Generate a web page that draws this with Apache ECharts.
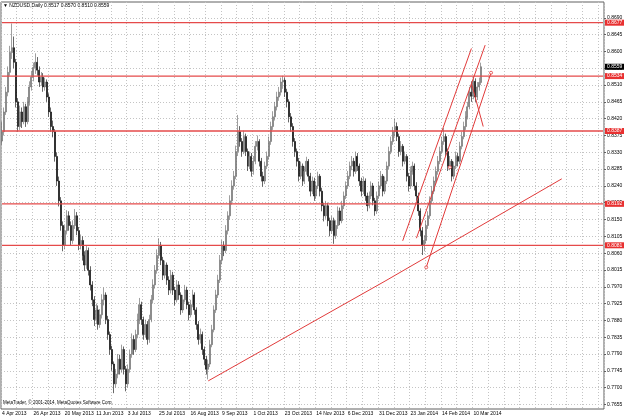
<!DOCTYPE html>
<html><head><meta charset="utf-8">
<script src="https://cdn.jsdelivr.net/npm/echarts@6/dist/echarts.min.js"></script>
<style>html,body{margin:0;padding:0;background:#fff}#c{width:624px;height:417px}</style>
</head><body><div id="c"></div>
<script>
// ---- data ----
const firstDate = '2013-04-04';
const totalSlots = 307;               // bars + empty space on the right
const closedDays = ['12-25', '01-01'];
// [open, close, low, high]
const candles = [
[.8360,.8385,.8350,.8412],[.8385,.8438,.8375,.8450],[.8438,.8491,.8430,.8505],[.8491,.8544,.8480,.8560],
[.8544,.8597,.8535,.8615],[.8597,.8610,.8580,.8675],[.8610,.8571,.8555,.8640],[.8571,.8465,.8450,.8580],
[.8465,.8399,.8385,.8475],[.8399,.8438,.8390,.8455],[.8438,.8412,.8395,.8450],[.8412,.8452,.8405,.8465],
[.8452,.8412,.8398,.8460],[.8412,.8465,.8405,.8478],[.8465,.8505,.8455,.8520],[.8505,.8531,.8495,.8548],
[.8531,.8557,.8520,.8570],[.8557,.8571,.8540,.8595],[.8571,.8550,.8535,.8585],[.8550,.8518,.8505,.8560],
[.8518,.8531,.8508,.8545],[.8531,.8505,.8492,.8542],[.8505,.8518,.8495,.8530],[.8518,.8478,.8465,.8525],
[.8478,.8438,.8425,.8488],[.8438,.8399,.8385,.8450],[.8399,.8385,.8370,.8415],[.8385,.8319,.8305,.8392],
[.8319,.8253,.8240,.8330],[.8253,.8200,.8185,.8265],[.8200,.8134,.8120,.8210],[.8134,.8081,.8065,.8145],
[.8081,.8120,.8070,.8135],[.8120,.8160,.8110,.8175],[.8160,.8134,.8120,.8172],[.8134,.8094,.8080,.8145],
[.8094,.8134,.8085,.8148],[.8134,.8160,.8125,.8178],[.8160,.8120,.8108,.8170],[.8120,.8081,.8068,.8130],
[.8081,.8094,.8070,.8110],[.8094,.8054,.8040,.8105],[.8054,.8028,.8012,.8065],[.8028,.8067,.8018,.8080],
[.8067,.8014,.8000,.8075],[.8014,.7975,.7960,.8025],[.7975,.7935,.7918,.7985],[.7935,.7882,.7865,.7945],
[.7882,.7908,.7870,.7925],[.7908,.7869,.7855,.7920],[.7869,.7895,.7860,.7910],[.7895,.7935,.7885,.7950],
[.7935,.7948,.7920,.7968],[.7948,.7882,.7870,.7955],[.7882,.7842,.7828,.7892],[.7842,.7802,.7788,.7850],
[.7802,.7763,.7745,.7812],[.7763,.7710,.7685,.7770],[.7710,.7736,.7700,.7750],[.7736,.7776,.7725,.7790],
[.7776,.7749,.7735,.7788],[.7749,.7802,.7740,.7815],[.7802,.7749,.7735,.7810],[.7749,.7710,.7690,.7758],
[.7710,.7749,.7700,.7762],[.7749,.7789,.7740,.7802],[.7789,.7829,.7780,.7845],[.7829,.7802,.7788,.7840],
[.7802,.7842,.7795,.7855],[.7842,.7882,.7832,.7898],[.7882,.7922,.7870,.7940],[.7922,.7882,.7868,.7930],
[.7882,.7842,.7828,.7890],[.7842,.7869,.7835,.7882],[.7869,.7829,.7815,.7878],[.7829,.7882,.7820,.7895],
[.7882,.7935,.7875,.7948],[.7935,.7975,.7925,.7990],[.7975,.8014,.7965,.8028],[.8014,.8054,.8005,.8070],
[.8054,.8081,.8045,.8100],[.8081,.8041,.8028,.8090],[.8041,.8001,.7988,.8050],[.8001,.8028,.7992,.8040],
[.8028,.7988,.7975,.8035],[.7988,.7961,.7948,.7998],[.7961,.8001,.7952,.8015],[.8001,.7961,.7948,.8010],
[.7961,.7935,.7920,.7970],[.7935,.7975,.7928,.7988],[.7975,.7948,.7935,.7985],[.7948,.7908,.7895,.7955],
[.7908,.7935,.7900,.7948],[.7935,.7961,.7928,.7975],[.7961,.7922,.7910,.7970],[.7922,.7895,.7880,.7930],
[.7895,.7922,.7888,.7935],[.7922,.7948,.7915,.7962],[.7948,.7908,.7895,.7955],[.7908,.7869,.7855,.7915],
[.7869,.7829,.7815,.7878],[.7829,.7842,.7818,.7858],[.7842,.7802,.7788,.7850],[.7802,.7776,.7760,.7810],
[.7776,.7749,.7735,.7785],[.7749,.7763,.7722,.7775],[.7763,.7815,.7755,.7828],[.7815,.7855,.7808,.7868],
[.7855,.7908,.7848,.7920],[.7908,.7948,.7900,.7962],[.7948,.7988,.7940,.8002],[.7988,.8041,.7980,.8055],
[.8041,.8081,.8030,.8095],[.8081,.8067,.8052,.8092],[.8067,.8120,.8060,.8135],[.8120,.8160,.8110,.8172],
[.8160,.8200,.8150,.8215],[.8200,.8240,.8190,.8255],[.8240,.8266,.8230,.8280],[.8266,.8332,.8258,.8348],
[.8332,.8385,.8320,.8430],[.8385,.8359,.8345,.8400],[.8359,.8332,.8318,.8368],[.8332,.8372,.8325,.8388],
[.8372,.8332,.8320,.8380],[.8332,.8293,.8280,.8340],[.8293,.8319,.8285,.8332],[.8319,.8279,.8265,.8328],
[.8279,.8306,.8270,.8320],[.8306,.8346,.8298,.8360],[.8346,.8359,.8335,.8375],[.8359,.8306,.8292,.8365],
[.8306,.8266,.8252,.8315],[.8266,.8253,.8238,.8278],[.8253,.8293,.8245,.8305],[.8293,.8319,.8285,.8332],
[.8319,.8359,.8310,.8372],[.8359,.8399,.8350,.8412],[.8399,.8425,.8390,.8440],[.8425,.8452,.8415,.8465],
[.8452,.8478,.8442,.8492],[.8478,.8491,.8468,.8505],[.8491,.8518,.8482,.8530],[.8518,.8523,.8500,.8535],
[.8523,.8491,.8478,.8530],[.8491,.8465,.8450,.8500],[.8465,.8425,.8410,.8472],[.8425,.8399,.8385,.8435],
[.8399,.8359,.8345,.8408],[.8359,.8332,.8318,.8368],[.8332,.8306,.8292,.8340],[.8306,.8266,.8252,.8315],
[.8266,.8293,.8258,.8305],[.8293,.8253,.8240,.8300],[.8253,.8279,.8245,.8292],[.8279,.8306,.8270,.8318],
[.8306,.8266,.8252,.8312],[.8266,.8226,.8212,.8275],[.8226,.8253,.8218,.8265],[.8253,.8213,.8200,.8262],
[.8213,.8240,.8205,.8252],[.8240,.8266,.8232,.8278],[.8266,.8226,.8212,.8272],[.8226,.8187,.8172,.8235],
[.8187,.8160,.8145,.8195],[.8160,.8187,.8152,.8200],[.8187,.8147,.8132,.8195],[.8147,.8120,.8105,.8155],
[.8120,.8147,.8112,.8160],[.8147,.8107,.8085,.8155],[.8107,.8134,.8098,.8148],[.8134,.8173,.8125,.8185],
[.8173,.8147,.8135,.8182],[.8147,.8187,.8140,.8200],[.8187,.8213,.8178,.8225],[.8213,.8240,.8205,.8252],
[.8240,.8266,.8232,.8280],[.8266,.8293,.8258,.8305],[.8293,.8306,.8282,.8320],[.8306,.8279,.8265,.8315],
[.8279,.8319,.8272,.8332],[.8319,.8293,.8280,.8328],[.8293,.8253,.8240,.8300],[.8253,.8226,.8212,.8262],
[.8226,.8253,.8218,.8265],[.8253,.8213,.8200,.8260],[.8213,.8187,.8172,.8222],[.8187,.8213,.8180,.8225],
[.8213,.8240,.8205,.8252],[.8240,.8200,.8188,.8248],[.8200,.8173,.8160,.8208],[.8173,.8213,.8165,.8225],
[.8213,.8240,.8205,.8252],[.8240,.8266,.8232,.8280],[.8266,.8226,.8212,.8272],[.8226,.8253,.8218,.8265],
[.8253,.8293,.8245,.8305],[.8293,.8332,.8285,.8345],[.8332,.8359,.8325,.8372],[.8359,.8385,.8350,.8398],
[.8385,.8399,.8372,.8420],[.8399,.8372,.8360,.8410],[.8372,.8332,.8318,.8380],[.8332,.8346,.8322,.8360],
[.8346,.8306,.8292,.8352],[.8306,.8319,.8298,.8332],[.8319,.8266,.8252,.8325],[.8266,.8240,.8225,.8275],
[.8240,.8279,.8232,.8292],[.8279,.8293,.8270,.8305],[.8293,.8240,.8228,.8300],[.8240,.8213,.8200,.8250],
[.8213,.8173,.8160,.8222],[.8173,.8120,.8105,.8180],[.8120,.8081,.8055,.8130],[.8081,.8094,.8065,.8108],
[.8094,.8134,.8085,.8148],[.8134,.8160,.8125,.8172],[.8160,.8200,.8152,.8212],[.8200,.8226,.8192,.8240],
[.8226,.8253,.8218,.8265],[.8253,.8279,.8245,.8292],[.8279,.8306,.8270,.8320],[.8306,.8332,.8298,.8345],
[.8332,.8359,.8325,.8372],[.8359,.8372,.8350,.8395],[.8372,.8332,.8318,.8380],[.8332,.8293,.8280,.8340],
[.8293,.8306,.8282,.8320],[.8306,.8266,.8252,.8312],[.8266,.8293,.8258,.8305],[.8293,.8319,.8285,.8332],
[.8319,.8306,.8292,.8328],[.8306,.8346,.8298,.8358],[.8346,.8372,.8338,.8385],[.8372,.8399,.8365,.8412],
[.8399,.8425,.8390,.8440],[.8425,.8452,.8418,.8465],[.8452,.8491,.8445,.8505],[.8491,.8480,.8465,.8520],
[.8480,.8520,.8472,.8532],[.8520,.8478,.8465,.8528],[.8478,.8505,.8470,.8518],[.8505,.8517,.8495,.8530],
[.8517,.8559,.8510,.8570]
];
const priceTicks = [0.7655,0.7700,0.7745,0.7790,0.7835,0.7880,0.7925,0.7970,0.8015,0.8060,0.8105,0.8150,
  0.8195,0.8240,0.8285,0.8330,0.8375,0.8420,0.8465,0.8510,0.8555,0.8600,0.8645,0.8690];
const levels = [0.8677, 0.8534, 0.8387, 0.8192, 0.8081];
const lastPrice = 0.8559;
const trendLong = [['2013-08-29', 0.7718], ['2014-01-06', 0.7985], ['2014-05-12', 0.8259]];
const forkLines = [
  [['2014-01-17', 0.8093], ['2014-03-07', 0.8608]],
  [['2014-01-28', 0.8100], ['2014-03-18', 0.8617]],
  [['2014-02-04', 0.8022], ['2014-03-21', 0.8543]],
  [['2014-03-07', 0.8515], ['2014-03-17', 0.8399]]
];
const forkMarks = [['2014-02-04', 0.8022], ['2014-02-20', 0.8290], ['2014-03-21', 0.8543]];
const titleText = 'NZDUSD,Daily 0.8517 0.8570 0.8510 0.8559';
const copyright = 'MetaTrader, \u00a9 2001-2014, MetaQuotes Software Corp.';

// ---- build ----
const MON = ['Jan','Feb','Mar','Apr','May','Jun','Jul','Aug','Sep','Oct','Nov','Dec'];
const pad = n => (n < 10 ? '0' : '') + n;
const dates = [];
{
  const p = firstDate.split('-').map(Number);
  const d = new Date(Date.UTC(p[0], p[1] - 1, p[2]));
  while (dates.length < totalSlots) {
    const wd = d.getUTCDay();
    const md = pad(d.getUTCMonth() + 1) + '-' + pad(d.getUTCDate());
    if (wd !== 0 && wd !== 6 && closedDays.indexOf(md) < 0)
      dates.push(d.getUTCFullYear() + '-' + md);
    d.setUTCDate(d.getUTCDate() + 1);
  }
}
const fmtDate = s => { const p = s.split('-'); return (+p[2]) + ' ' + MON[+p[1] - 1] + ' ' + p[0]; };

const FONT = 'Liberation Sans';
const RED = '#e23b3b';
const chart = echarts.init(document.getElementById('c'), null, { renderer: 'canvas' });

const lineSeries = (pts, withSym) => ({
  type: 'line', data: pts, silent: true, animation: false, z: 5,
  symbol: withSym ? 'circle' : 'none', symbolSize: 3,
  itemStyle: { color: '#fff', borderColor: RED, borderWidth: 1 },
  lineStyle: { color: RED, width: 1 }
});

// horizontal levels: a two-point line across the whole axis with a price tag at its end
const levelSeries = (v, bg, visible) => ({
  type: 'line', silent: true, animation: false, z: 4, symbol: 'none', clip: false,
  data: [[dates[0], v], [dates[dates.length - 1], v]],
  lineStyle: { color: '#e54a4a', width: 1.3, opacity: visible ? 1 : 0 },
  endLabel: { show: true, formatter: v.toFixed(4), distance: 2, backgroundColor: bg, color: '#fff',
              fontSize: 5, fontFamily: FONT, padding: [1, 2, 0, 2] }
});

chart.setOption({
  animation: false,
  backgroundColor: '#fff',
  grid: { left: 1, right: 20, top: 2, bottom: 8, containLabel: false, outerBoundsMode: 'none',
          show: true, borderColor: '#606060', borderWidth: 1 },
  xAxis: {
    type: 'category', data: dates, boundaryGap: true,
    axisLine: { show: false }, axisTick: { show: false },
    axisLabel: { interval: (i) => i % 16 === 0 && i < candles.length, align: 'left', formatter: fmtDate,
                 fontSize: 5, fontFamily: FONT, color: '#000', margin: 2, hideOverlap: false },
    splitLine: { show: true, interval: 7, lineStyle: { color: '#c4c4c4', type: [1, 2], width: 1 } }
  },
  yAxis: {
    type: 'value', position: 'right', min: 0.76427, max: 0.87324, scale: true,
    axisLine: { show: false },
    axisTick: { show: true, customValues: priceTicks, length: 2, lineStyle: { color: '#606060' } },
    axisLabel: { customValues: priceTicks, formatter: v => v.toFixed(4), fontSize: 5, fontFamily: FONT, color: '#000', margin: 3 },
    splitLine: { show: true, lineStyle: { color: '#c4c4c4', type: [1, 2], width: 1 } }
  },
  graphic: [
    { type: 'text', left: 3, top: 3, style: { text: '\u25BC ' + titleText, font: '5px ' + FONT, fill: '#000' } },
    { type: 'text', left: 3, top: 400, style: { text: copyright, font: '4.5px ' + FONT, fill: '#000' } }
  ],
  series: [
    {
      type: 'candlestick', data: candles, barWidth: 1.5, z: 3,
      itemStyle: { color: '#a0a0a0', color0: '#000', borderColor: '#606060', borderColor0: '#000', borderWidth: 0.6 }
    },
    lineSeries(trendLong, true)
  ].concat(levels.map(v => levelSeries(v, '#e83030', true)))
   .concat([levelSeries(lastPrice, '#000', false)])
   .concat(forkLines.map(l => lineSeries(l, false)))
   .concat([{ type: 'scatter', data: forkMarks, symbol: 'circle', symbolSize: 3, z: 6, silent: true,
              itemStyle: { color: '#fff', borderColor: RED, borderWidth: 1 } }])
});
</script></body></html>
